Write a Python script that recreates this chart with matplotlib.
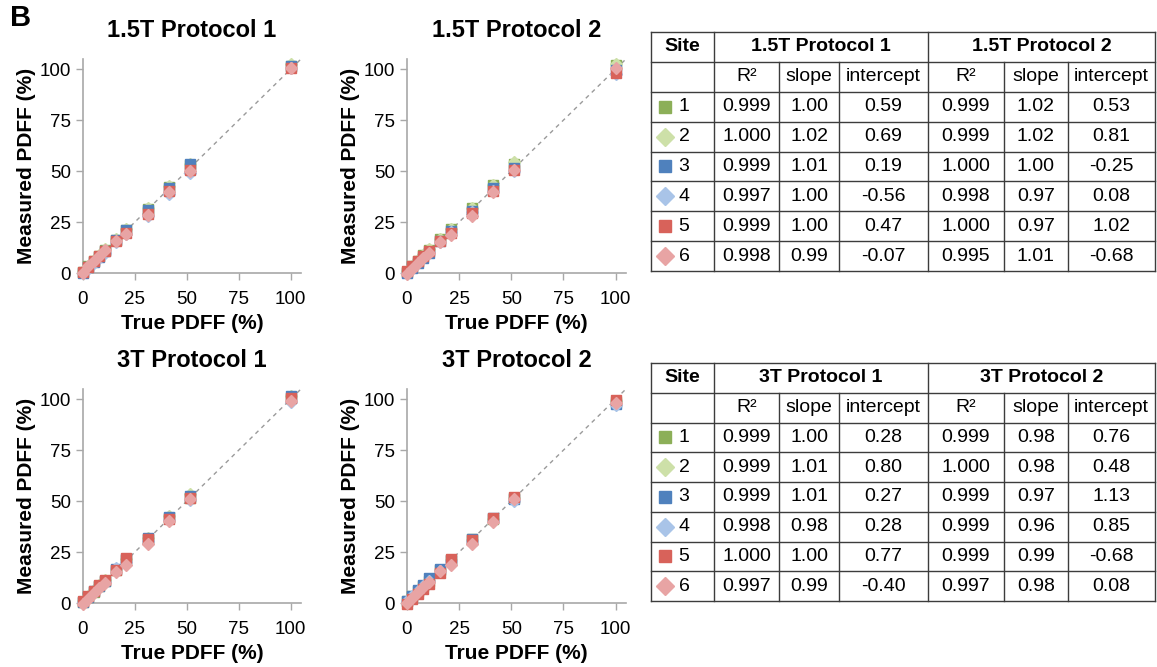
import matplotlib
matplotlib.use('Agg')
from matplotlib import pyplot as plt

plt.rcParams['font.family'] = ['Liberation Sans', 'DejaVu Sans']

W, H = 1157, 667

# True PDFF of the phantom vials
truePdff = [0, 2.6, 5.3, 7.9, 10.5, 15.7, 20.9, 31.3, 41.3, 51.4, 100]

sites = ['1', '2', '3', '4', '5', '6']
siteColors = ['#8CAF58', '#CDE0A8', '#4F81BD', '#A9C4E8', '#D8625A', '#E8A4A4']
siteMarkers = ['s', 'D', 's', 'D', 's', 'D']

# measured PDFF, one list per site
p15_1 = [
    [0.5, 3.2, 6.0, 8.5, 11.5, 16.3, 21.3, 31.5, 42.0, 53.0, 101.5],
    [0.8, 3.5, 6.3, 9.0, 12.0, 16.5, 21.5, 32.0, 42.5, 53.5, 102.5],
    [0.2, 2.8, 5.5, 8.0, 10.8, 16.0, 21.0, 31.0, 41.5, 53.5, 101.5],
    [0.0, 2.0, 4.8, 7.4, 10.0, 15.4, 19.0, 28.0, 39.0, 49.0, 100.5],
    [0.5, 3.0, 5.8, 8.4, 11.0, 15.8, 19.5, 29.0, 40.0, 50.5, 100.5],
    [0.2, 3.5, 5.8, 8.3, 11.5, 15.5, 19.0, 28.5, 39.5, 50.0, 100.5],
]
p15_2 = [
    [0.5, 3.2, 6.0, 8.6, 11.5, 16.5, 21.5, 32.0, 43.0, 53.5, 102.0],
    [0.8, 3.6, 6.5, 9.0, 12.0, 16.8, 21.5, 32.0, 43.0, 54.5, 102.5],
    [-0.2, 2.3, 4.8, 7.5, 10.0, 15.5, 20.5, 30.5, 41.5, 51.5, 99.5],
    [0.1, 2.6, 5.2, 7.8, 10.3, 15.3, 20.0, 30.0, 40.0, 50.0, 97.5],
    [1.0, 3.5, 6.0, 8.5, 11.0, 15.5, 19.5, 29.5, 40.0, 50.5, 98.0],
    [-0.5, 2.0, 4.8, 7.5, 10.0, 15.0, 18.5, 28.0, 39.5, 50.5, 100.5],
]
p3_1 = [
    [0.3, 2.9, 5.6, 8.2, 10.8, 16.0, 21.2, 31.5, 41.5, 51.5, 100.5],
    [0.8, 3.5, 6.2, 8.8, 11.5, 16.5, 21.5, 32.0, 42.5, 53.5, 101.5],
    [0.3, 2.9, 5.7, 8.3, 11.0, 16.5, 21.5, 32.0, 42.0, 52.5, 101.5],
    [0.3, 2.7, 5.4, 8.0, 10.5, 17.0, 20.0, 30.5, 40.5, 50.5, 98.5],
    [0.8, 3.4, 6.1, 8.7, 11.3, 16.0, 22.0, 31.5, 41.0, 51.5, 100.5],
    [-0.4, 2.2, 4.8, 7.4, 10.0, 15.0, 18.5, 29.0, 40.0, 51.0, 99.0],
]
p3_2 = [
    [0.8, 3.3, 6.0, 8.5, 11.0, 16.0, 21.0, 31.5, 41.0, 51.5, 98.5],
    [0.5, 3.0, 5.7, 8.2, 10.8, 16.0, 21.0, 31.0, 41.0, 51.5, 99.0],
    [1.1, 3.6, 6.3, 8.8, 12.5, 16.5, 21.0, 31.5, 41.5, 51.0, 97.5],
    [0.9, 3.3, 5.9, 8.4, 11.0, 15.5, 20.5, 30.5, 40.0, 50.0, 97.0],
    [-0.7, 2.0, 4.5, 7.0, 9.5, 14.5, 21.5, 31.0, 41.5, 52.0, 99.5],
    [0.1, 2.6, 5.3, 7.8, 10.5, 15.5, 18.5, 29.0, 39.5, 51.0, 98.0],
]

ticks = [0, 25, 50, 75, 100]

# table values: R2, slope, intercept for protocol 1 then protocol 2
tab15 = [
    ['0.999', '1.00', '0.59', '0.999', '1.02', '0.53'],
    ['1.000', '1.02', '0.69', '0.999', '1.02', '0.81'],
    ['0.999', '1.01', '0.19', '1.000', '1.00', '-0.25'],
    ['0.997', '1.00', '-0.56', '0.998', '0.97', '0.08'],
    ['0.999', '1.00', '0.47', '1.000', '0.97', '1.02'],
    ['0.998', '0.99', '-0.07', '0.995', '1.01', '-0.68'],
]
tab3 = [
    ['0.999', '1.00', '0.28', '0.999', '0.98', '0.76'],
    ['0.999', '1.01', '0.80', '1.000', '0.98', '0.48'],
    ['0.999', '1.01', '0.27', '0.999', '0.97', '1.13'],
    ['0.998', '0.98', '0.28', '0.999', '0.96', '0.85'],
    ['1.000', '1.00', '0.77', '0.999', '0.99', '-0.68'],
    ['0.997', '0.99', '-0.40', '0.997', '0.98', '0.08'],
]
subHeaders = ['R²', 'slope', 'intercept', 'R²', 'slope', 'intercept']


def pxAxes(fig, left, top, right, bottom):
    return fig.add_axes([left / W, 1 - bottom / H, (right - left) / W, (bottom - top) / H])


def scatterPanel(ax, title, data):
    ax.plot([0, 105], [0, 105], ls=(0, (3, 3)), color='#9A9A9A', lw=1, zorder=1)
    for i in range(len(sites)):
        ax.plot(truePdff, data[i], ls='none', marker=siteMarkers[i], ms=6.5,
                color=siteColors[i], mec=siteColors[i], clip_on=False, zorder=3 + i)
    ax.set_xlim(0, 105)
    ax.set_ylim(0, 105)
    ax.set_xticks(ticks)
    ax.set_yticks(ticks)
    for s in ['top', 'right']:
        ax.spines[s].set_visible(False)
    for s in ['left', 'bottom']:
        ax.spines[s].set_color('#A8A8A8')
        ax.spines[s].set_linewidth(1.2)
    ax.tick_params(colors='#A8A8A8', labelcolor='black', labelsize=13.5, length=5, width=1)
    ax.tick_params(axis='x', pad=8)
    ax.set_title(title, fontsize=17, fontweight='bold', pad=16)
    ax.set_xlabel('True PDFF (%)', fontsize=15, fontweight='bold', labelpad=4)
    ax.set_ylabel('Measured PDFF (%)', fontsize=15, fontweight='bold', labelpad=3)


def drawTable(ax, top, bottom, proto1, proto2, rows):
    cols = [651, 714, 779, 839, 928, 1004, 1068, 1155]
    n = 8
    rh = (bottom - top) / n
    ys = [top + k * rh for k in range(n + 1)]
    lc = '#3C3C3C'
    for y in ys:
        ax.plot([cols[0], cols[-1]], [y, y], color=lc, lw=1)
    for k, x in enumerate(cols):
        if k in (0, 1, 4, 7):
            ax.plot([x, x], [top, bottom], color=lc, lw=1)
        else:
            ax.plot([x, x], [ys[1], bottom], color=lc, lw=1)
    fs = 14
    ax.text((cols[0] + cols[1]) / 2, (ys[0] + ys[1]) / 2, 'Site', ha='center', va='center',
            fontsize=fs, fontweight='bold')
    ax.text((cols[1] + cols[4]) / 2, (ys[0] + ys[1]) / 2, proto1, ha='center', va='center',
            fontsize=fs, fontweight='bold')
    ax.text((cols[4] + cols[7]) / 2, (ys[0] + ys[1]) / 2, proto2, ha='center', va='center',
            fontsize=fs, fontweight='bold')
    for j, h in enumerate(subHeaders):
        ax.text((cols[j + 1] + cols[j + 2]) / 2, (ys[1] + ys[2]) / 2, h, ha='center', va='center',
                fontsize=fs)
    for i, row in enumerate(rows):
        yc = (ys[i + 2] + ys[i + 3]) / 2
        ms = 9 if siteMarkers[i] == 's' else 9
        ax.plot([665], [yc], ls='none', marker=siteMarkers[i], ms=ms, color=siteColors[i],
                mec=siteColors[i])
        ax.text(684, yc, sites[i], ha='center', va='center', fontsize=fs)
        for j, v in enumerate(row):
            ax.text((cols[j + 1] + cols[j + 2]) / 2, yc, v, ha='center', va='center', fontsize=fs)


fig = plt.figure(figsize=(W / 100, H / 100), dpi=100)

scatterPanel(pxAxes(fig, 83, 59, 301, 273), '1.5T Protocol 1', p15_1)
scatterPanel(pxAxes(fig, 407, 59, 626, 273), '1.5T Protocol 2', p15_2)
scatterPanel(pxAxes(fig, 83, 389, 301, 603), '3T Protocol 1', p3_1)
scatterPanel(pxAxes(fig, 407, 389, 626, 603), '3T Protocol 2', p3_2)

tax = fig.add_axes([0, 0, 1, 1])
tax.set_xlim(0, W)
tax.set_ylim(H, 0)
tax.axis('off')
drawTable(tax, 32, 271, '1.5T Protocol 1', '1.5T Protocol 2', tab15)
drawTable(tax, 363, 601, '3T Protocol 1', '3T Protocol 2', tab3)

fig.text(10 / W, 1 - 18 / H, 'B', fontsize=21, fontweight='bold', va='center', ha='left')

fig.savefig('out.png', dpi=100)
